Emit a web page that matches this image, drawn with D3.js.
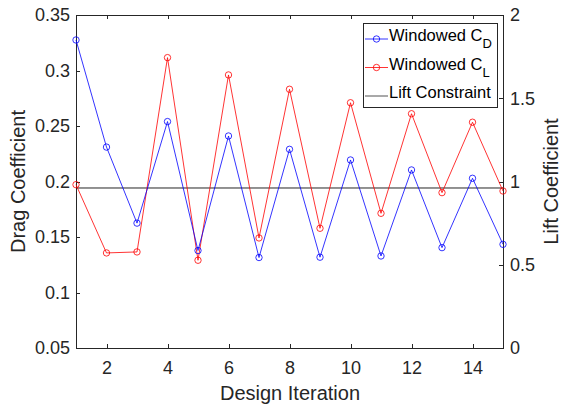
<!DOCTYPE html>
<html lang="en">
<head>
<meta charset="UTF-8">
<title>Windowed CD / CL</title>
<style>
  body { margin: 0; background: #fff; }
  svg { display: block; font-family: Arial, "Liberation Sans", sans-serif; }
  .axis path, .axis line { stroke: #262626; shape-rendering: crispEdges; }
  .axis text { fill: #262626; font-size: 18px; }
  .lab { fill: #262626; font-size: 20px; text-anchor: middle; }
  .leg { fill: #000; font-size: 16.5px; }
</style>
</head>
<body>
<script src="https://d3js.org/d3.v7.min.js"></script>
<script>
const width = 561;
const height = 409;
const margin = { left: 76, right: 58, top: 15, bottom: 61 };

// data
const iterations = [1, 2, 3, 4, 5, 6, 7, 8, 9, 10, 11, 12, 13, 14, 15];
const dragValues = [0.3275, 0.231, 0.1625, 0.254, 0.1378, 0.241, 0.1315, 0.229, 0.1318, 0.2194, 0.1329, 0.2104, 0.1404, 0.2029, 0.1434];
const liftValues = [0.981, 0.571, 0.577, 1.744, 0.527, 1.640, 0.661, 1.554, 0.719, 1.473, 0.809, 1.407, 0.933, 1.356, 0.943];
const liftConstraint = 0.961;
const xTicks = [2, 4, 6, 8, 10, 12, 14];
const dragTicks = [0.05, 0.1, 0.15, 0.2, 0.25, 0.3, 0.35];
const liftTicks = [0, 0.5, 1, 1.5, 2];
const legendLabels = [["Windowed C", "D"], ["Windowed C", "L"], ["Lift Constraint", ""]];
const legendColors = ["#0000ff", "#ff0000", "#262626"];

const iw = width - margin.left - margin.right;
const ih = height - margin.top - margin.bottom;

const x = d3.scaleLinear().domain([1, 15]).range([0, iw]);
const yL = d3.scaleLinear().domain([0.05, 0.35]).range([ih, 0]);
const yR = d3.scaleLinear().domain([0, 2]).range([ih, 0]);

const svg = d3.select("body").append("svg").attr("width", width).attr("height", height);
const g = svg.append("g").attr("transform", "translate(" + margin.left + "," + margin.top + ")");

// axes
g.append("g").attr("class", "axis")
  .attr("transform", "translate(0," + ih + ")")
  .call(d3.axisBottom(x).tickValues(xTicks).tickSizeInner(-4).tickSizeOuter(0).tickPadding(13));
g.append("g").attr("class", "axis")
  .call(d3.axisTop(x).tickValues(xTicks).tickSizeInner(-4).tickSizeOuter(0).tickFormat(""));
g.append("g").attr("class", "axis")
  .call(d3.axisLeft(yL).tickValues(dragTicks).tickSizeInner(-4).tickSizeOuter(0).tickPadding(6).tickFormat(d3.format("")));
g.append("g").attr("class", "axis")
  .attr("transform", "translate(" + iw + ",0)")
  .call(d3.axisRight(yR).tickValues(liftTicks).tickSizeInner(-4).tickSizeOuter(0).tickPadding(7).tickFormat(d3.format("")));

// constraint line
g.append("line")
  .attr("x1", x(1)).attr("x2", x(15))
  .attr("y1", yR(liftConstraint)).attr("y2", yR(liftConstraint))
  .attr("stroke", "#262626").attr("stroke-width", 1);

function series(values, scale, color) {
  const line = d3.line().x((d, i) => x(iterations[i])).y(d => scale(d));
  g.append("path").datum(values)
    .attr("d", line).attr("fill", "none").attr("stroke", color).attr("stroke-width", 0.8);
  g.selectAll(null).data(values).enter().append("circle")
    .attr("cx", (d, i) => x(iterations[i])).attr("cy", d => scale(d)).attr("r", 3.2)
    .attr("fill", "none").attr("stroke", color).attr("stroke-width", 0.8);
}
series(liftValues, yR, "#ff0000");
series(dragValues, yL, "#0000ff");

// labels
svg.append("text").attr("class", "lab").attr("x", 290).attr("y", 400).text("Design Iteration");
svg.append("text").attr("class", "lab")
  .attr("transform", "translate(25," + (margin.top + ih / 2) + ") rotate(-90)").text("Drag Coefficient");
svg.append("text").attr("class", "lab")
  .attr("transform", "translate(558," + (margin.top + ih / 2) + ") rotate(-90)").text("Lift Coefficient");

// legend
const leg = svg.append("g").attr("transform", "translate(363,23)");
leg.append("rect").attr("width", 134).attr("height", 84)
  .attr("fill", "#fff").attr("stroke", "#262626").attr("stroke-width", 1).attr("shape-rendering", "crispEdges");
legendLabels.forEach((lab, i) => {
  const yy = 16 + i * 28.5;
  leg.append("line").attr("x1", 2).attr("x2", 25).attr("y1", yy).attr("y2", yy)
    .attr("stroke", legendColors[i]).attr("stroke-width", 0.8);
  if (i < 2) {
    leg.append("circle").attr("cx", 13.5).attr("cy", yy).attr("r", 3.2)
      .attr("fill", "none").attr("stroke", legendColors[i]).attr("stroke-width", 0.8);
  }
  const t = leg.append("text").attr("class", "leg").attr("x", 26).attr("y", yy + 2);
  t.append("tspan").text(lab[0]);
  if (lab[1]) t.append("tspan").attr("dy", 7).attr("font-size", 13).text(lab[1]);
});
</script>
</body>
</html>
